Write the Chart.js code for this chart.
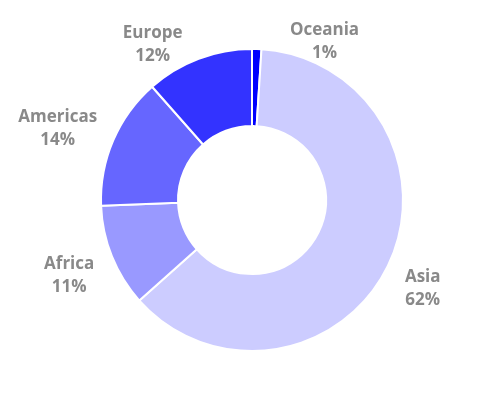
<!DOCTYPE html>
<html>
<head>
<meta charset="utf-8">
<script src="https://cdn.jsdelivr.net/npm/chart.js@4"></script>
<style>
	html, body { margin: 0; padding: 0; background: #fff; }
	#wrap { width: 504px; height: 402px; }
</style>
</head>
<body>
<div id="wrap"><canvas id="myChart"></canvas></div>
<script>
const regions = ['Oceania', 'Asia', 'Africa', 'Americas', 'Europe'];
const shares = [1, 62.4, 11, 14.1, 11.5];
const shareLabels = ['1%', '62%', '11%', '14%', '12%'];
const sliceColors = ['#0000ff', '#ccccff', '#9999ff', '#6666ff', '#3333ff'];

// labels near the top get pushed aside so they don't run off the canvas
const labelNudge = { Oceania: [66, 34], Europe: [-28, 24], Americas: [0, 3] };

const outsideLabels = {
	id: 'outsideLabels',
	afterDatasetsDraw(chart) {
		const ctx = chart.ctx;
		const meta = chart.getDatasetMeta(0);
		ctx.save();
		ctx.font = 'bold 17px "Open Sans", sans-serif';
		ctx.fillStyle = '#898989';
		ctx.textAlign = 'center';
		ctx.textBaseline = 'middle';
		const lineH = 23;
		meta.data.forEach((arc, i) => {
			const p = arc.getProps(['x', 'y', 'startAngle', 'endAngle', 'outerRadius'], true);
			const mid = (p.startAngle + p.endAngle) / 2;
			const dx = Math.cos(mid);
			const dy = Math.sin(mid);
			const w = Math.max(ctx.measureText(regions[i]).width, ctx.measureText(shareLabels[i]).width);
			const h = lineH * 2;
			const r = p.outerRadius + 21;
			let cx = p.x + dx * r + dx * w / 2;
			let cy = p.y + dy * r + dy * h / 2 + 3;
			const n = labelNudge[regions[i]];
			if (n) { cx += n[0]; cy += n[1]; }
			ctx.fillText(regions[i], cx, cy - lineH / 2);
			ctx.fillText(shareLabels[i], cx, cy + lineH / 2);
		});
		ctx.restore();
	},
};

new Chart(document.getElementById('myChart'), {
	type: 'doughnut',
	data: {
		labels: regions,
		datasets: [
			{
				data: shares,
				backgroundColor: sliceColors,
				hoverBackgroundColor: sliceColors,
				borderColor: '#ffffff',
				borderWidth: 2,
			},
		],
	},
	options: {
		responsive: true,
		maintainAspectRatio: false,
		animation: false,
		cutout: '49%',
		layout: {
			padding: { top: 48, bottom: 50, left: 0, right: 0 },
		},
		plugins: {
			legend: { display: false },
			tooltip: { enabled: false },
		},
		events: [],
	},
	plugins: [outsideLabels],
});
</script>
</body>
</html>
